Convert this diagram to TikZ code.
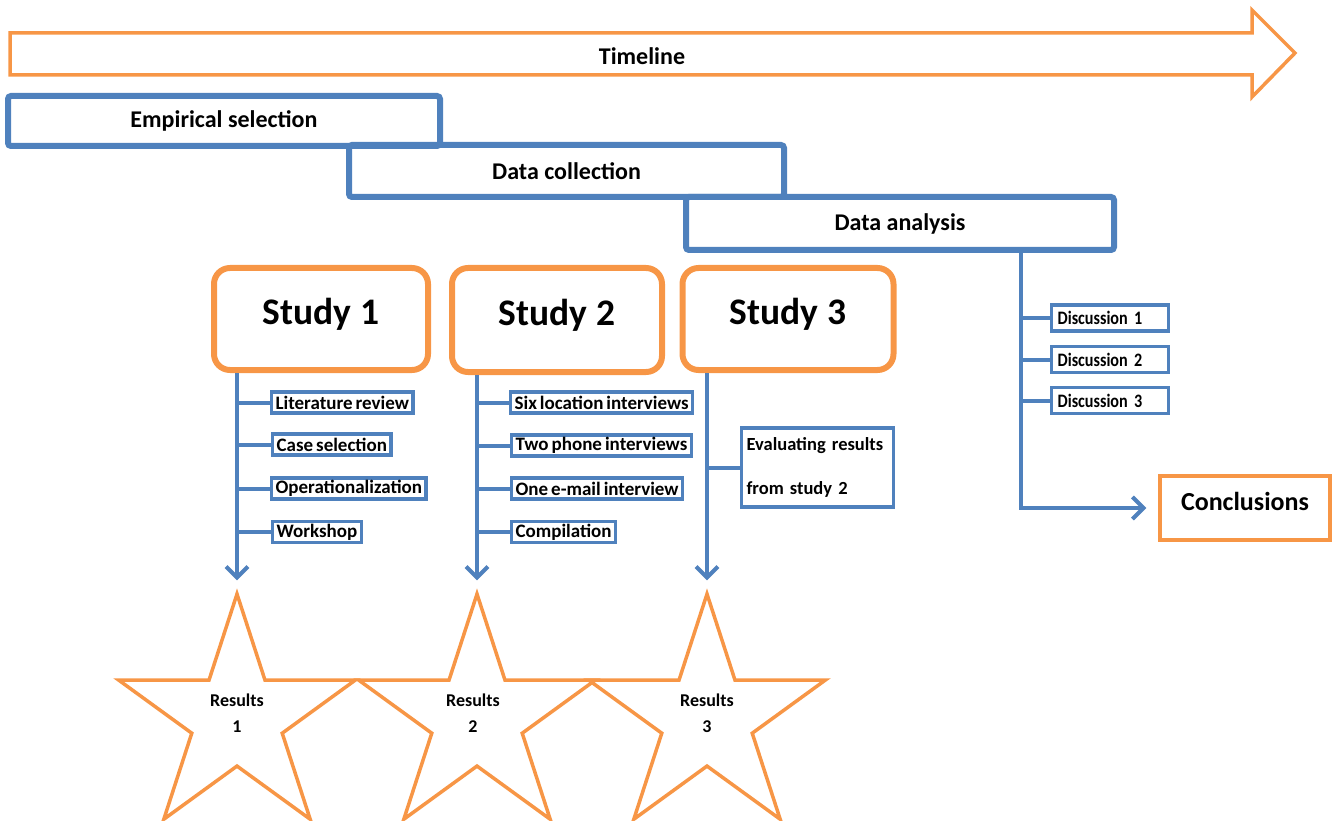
\documentclass[tikz,border=0pt]{standalone}
\usepackage{fontspec}
\setmainfont{Carlito}
\newfontfamily\condfont{Carlito}[FakeStretch=0.85, WordSpace=0.45]
\newfontfamily\tightfont{Carlito}[WordSpace=0.7]
\usetikzlibrary{shapes.geometric,arrows.meta}
\definecolor{myblue}{HTML}{4F81BD}
\definecolor{myorange}{HTML}{F79646}
\tikzset{
  phase/.style={draw=myblue, line width=6pt, rounded corners=3pt,
    font=\fontsize{24}{29}\selectfont\bfseries},
  item/.style={draw=myblue, line width=3.2pt, anchor=west, inner xsep=4pt, inner ysep=0pt,
    minimum height=21pt, font=\tightfont\fontsize{19}{23}\selectfont\bfseries},
  disc/.style={draw=myblue, line width=3.2pt, anchor=west, inner xsep=6pt, inner ysep=0pt,
    minimum height=26pt, text width=105pt, font=\condfont\fontsize{19}{23}\selectfont\bfseries},
  studybox/.style={draw=myorange, line width=6pt, rounded corners=16pt,
    font=\fontsize{37.5}{45}\selectfont\bfseries, text height=27pt, text depth=17pt},
  resultstar/.style={draw=myorange, line width=3.5pt, star, star points=5,
    star point ratio=2.618, minimum size=249pt, inner sep=0pt},
  restext/.style={font=\fontsize{18}{22}\selectfont\bfseries, align=center},
  conn/.style={draw=myblue, line width=4pt},
  arr/.style={conn, -{Straight Barb[length=11pt,width=22pt]}, shorten >=8pt},
}
\begin{document}
\begin{tikzpicture}[x=1pt,y=-1pt]
\useasboundingbox (0,0) rectangle (1339,821);
% timeline
\draw[draw=myorange, line width=3.5pt, line join=miter]
  (10,33) -- (1252,33) -- (1252,10) -- (1295,53) -- (1252,97) -- (1252,75) -- (10,75) -- cycle;
\node[font=\fontsize{24}{29}\selectfont\bfseries] (tl) at (642,56) {Timeline};
% phases
\node[phase, minimum width=432pt, minimum height=50pt] (es) at (224,121) {Empirical selection};
\node[phase, minimum width=435pt, minimum height=52pt] (dc) at (566.5,171) {Data collection};
\node[phase, minimum width=428pt, minimum height=53pt] (da) at (900,223.5) {Data analysis};
% studies
\node[studybox, minimum width=214pt, minimum height=102pt] (s1) at (321,319) {Study 1};
\node[studybox, minimum width=210pt, minimum height=104pt] (s2) at (557,320) {Study 2};
\node[studybox, minimum width=211pt, minimum height=102pt] (s3) at (788,319) {Study 3};
% stars
\node[resultstar] (r1) at (237,718.5) {};
\node[resultstar] (r2) at (477,718.5) {};
\node[resultstar] (r3) at (707,718.5) {};
\node[restext] (t1) at (237,713) {Results\\[4pt]1};
\node[restext] (t2) at (473,713) {Results\\[4pt]2};
\node[restext] (t3) at (707,713) {Results\\[4pt]3};
% study 1 items
\node[item] (lit) at (270,402.5) {Literature review};
\node[item] (cas) at (271,444.5) {Case selection};
\node[item] (ope) at (270,488.5) {Operationalization};
\node[item] (wor) at (271,532) {Workshop};
% study 2 items
\node[item] (six) at (509,402.5) {Six location interviews};
\node[item] (two) at (510,445.5) {Two phone interviews};
\node[item] (one) at (510,488.5) {One e-mail interview};
\node[item] (com) at (510,532) {Compilation};
% study 3 item
\node[draw=myblue, line width=3.2pt, anchor=west, inner xsep=5pt, inner ysep=0pt,
  minimum height=79pt, text width=142pt, align=left,
  font=\tightfont\fontsize{18.5}{44}\selectfont\bfseries] (eva) at (740,467.5)
  {Evaluating results\\from study 2};
% discussions
\node[disc] (d1) at (1050,318) {Discussion 1};
\node[disc] (d2) at (1050,359.5) {Discussion 2};
\node[disc] (d3) at (1050,400.5) {Discussion 3};
% conclusions
\node[draw=myorange, line width=3.5pt, minimum width=170pt, minimum height=64pt,
  font=\fontsize{26}{31}\selectfont\bfseries, text height=18pt, text depth=13pt]
  (conc) at (1245,508) {Conclusions};
% connectors
\draw[arr] (r1.north |- s1.south) -- (r1.north);
\draw[arr] (r2.north |- s2.south) -- (r2.north);
\draw[arr] (r3.north |- s3.south) -- (r3.north);
\foreach \b in {lit,cas,ope,wor} \draw[conn] (r1.north |- \b.west) -- (\b.west);
\foreach \b in {six,two,one,com} \draw[conn] (r2.north |- \b.west) -- (\b.west);
\draw[conn] (r3.north |- eva.west) -- (eva.west);
\coordinate (dl) at (1021,0);
\foreach \b in {d1,d2,d3} \draw[conn] (dl |- \b.west) -- (\b.west);
\draw[arr, shorten >=12pt] (dl |- da.south) |- (conc.west);
\end{tikzpicture}
\end{document}
